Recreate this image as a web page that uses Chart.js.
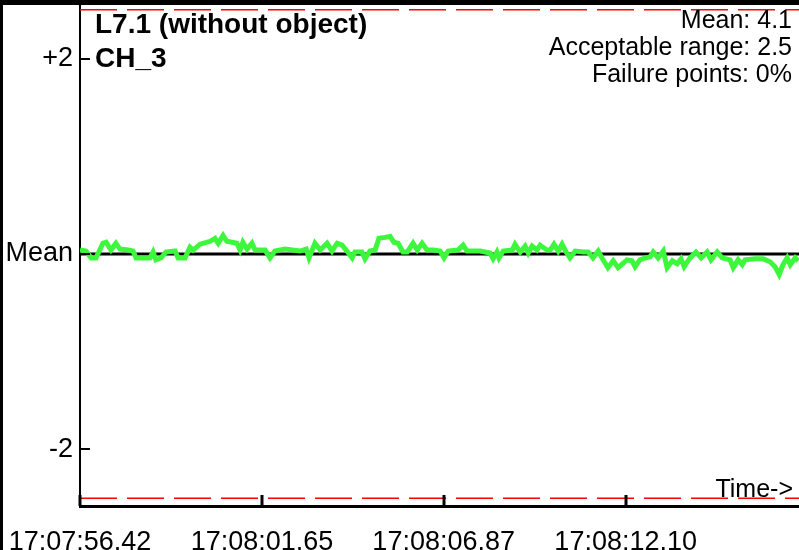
<!DOCTYPE html>
<html>
<head>
<meta charset="utf-8">
<script src="https://cdn.jsdelivr.net/npm/chart.js@4.4.1/dist/chart.umd.min.js"></script>
<style>
  html, body { margin: 0; padding: 0; background: #fff; }
  #wrap { width: 799px; height: 550px; }
</style>
</head>
<body>
<div id="wrap"><canvas id="chart" width="799" height="550"></canvas></div>
<script>
// seconds after 17:07:56.42
const times = [0.00, 0.17, 0.32, 0.46, 0.66, 0.75, 0.89, 1.03, 1.15, 1.38, 1.52, 1.61, 2.01, 2.10, 2.18, 2.33, 2.47, 2.73, 2.82, 3.02,
  3.16, 3.25, 3.45, 3.74, 3.88, 3.97, 4.11, 4.22, 4.51, 4.60, 4.68, 4.80, 4.94, 5.03, 5.32, 5.46, 5.60, 5.89, 6.32, 6.50,
  6.58, 6.75, 6.90, 7.10, 7.24, 7.39, 7.53, 7.67, 7.82, 7.90, 8.10, 8.19, 8.33, 8.48, 8.59, 8.77, 8.91, 9.02, 9.14, 9.28,
  9.40, 9.57, 9.69, 9.83, 9.97, 10.15, 10.35, 10.46, 10.58, 10.86, 11.01, 11.12, 11.50, 11.78, 11.87, 11.98, 12.04, 12.16, 12.42, 12.50,
  12.65, 12.79, 12.88, 12.99, 13.13, 13.22, 13.42, 13.51, 13.62, 13.74, 13.85, 13.97, 14.08, 14.23, 14.46, 14.60, 14.74, 14.89, 15.03, 15.17,
  15.32, 15.46, 15.72, 15.86, 15.95, 16.09, 16.24, 16.38, 16.47, 16.61, 16.76, 16.87, 17.02, 17.16, 17.27, 17.36, 17.53, 17.70, 17.85, 18.02,
  18.13, 18.31, 18.45, 18.68, 18.77, 18.91, 19.03, 19.11, 19.40, 19.63, 19.83, 19.97, 20.09, 20.20, 20.32, 20.41, 20.55, 20.64];

// deviation from mean
const values = [0.04, 0.03, -0.04, -0.04, 0.11, 0.12, 0.04, 0.11, 0.05, 0.04, 0.03, -0.04, -0.04, 0.02, -0.06, -0.04, 0.02, 0.03, -0.04, -0.04,
  0.07, 0.04, 0.10, 0.13, 0.16, 0.11, 0.19, 0.13, 0.11, 0.04, 0.12, 0.05, 0.11, 0.04, 0.04, -0.04, 0.03, 0.05, 0.03, 0.05,
  -0.04, 0.11, 0.04, 0.11, 0.03, 0.11, 0.09, 0.03, -0.04, 0.02, 0.02, -0.05, 0.03, 0.04, 0.16, 0.17, 0.18, 0.12, 0.11, 0.02,
  0.02, 0.11, 0.04, 0.11, 0.04, 0.04, 0.03, -0.04, 0.03, 0.04, 0.09, 0.03, 0.03, 0.01, -0.05, 0.02, -0.04, 0.03, 0.04, 0.10,
  0.02, 0.08, 0.01, 0.08, 0.04, 0.09, 0.04, 0.04, 0.10, 0.03, 0.10, 0.02, -0.04, 0.03, 0.02, 0.02, -0.04, 0.03, -0.06, -0.14,
  -0.07, -0.14, -0.06, -0.07, -0.13, -0.06, -0.04, -0.03, 0.02, -0.04, 0.03, -0.14, -0.07, -0.10, -0.05, -0.13, -0.04, 0.02, -0.04, 0.02,
  -0.06, 0.02, -0.04, -0.06, -0.14, -0.06, -0.11, -0.06, -0.05, -0.05, -0.08, -0.13, -0.21, -0.11, -0.04, -0.11, -0.04, -0.07];

const xTickValues = [0, 5.23, 10.45, 15.68];
const xTickLabels = ['17:07:56.42', '17:08:01.65', '17:08:06.87', '17:08:12.10'];
const yTickValues = [-2, 0, 2];
const yTickLabels = ['-2', 'Mean', '+2'];
const xMax = 20.66;
const yMin = -2.58, yMax = 2.6;
const acceptableRange = 2.5;

const titleLines = ['L7.1 (without object)', 'CH_3'];
const statLines = ['Mean: 4.1', 'Acceptable range: 2.5', 'Failure points: 0%'];

const FONT = '"Liberation Sans", Arial, sans-serif';

const points = times.map((t, i) => ({ x: t, y: values[i] }));

function noPadding(scale) {
  scale.paddingTop = 0;
  scale.paddingBottom = 0;
  scale.paddingLeft = 0;
  scale.paddingRight = 0;
}

// frame, inward ticks and text annotations
const decorations = {
  id: 'decorations',
  afterDraw(chart) {
    const { ctx, chartArea, scales } = chart;
    ctx.save();
    ctx.fillStyle = '#000';
    ctx.fillRect(0, 0, 3, chart.height);
    ctx.fillRect(0, 0, chart.width, 5);

    ctx.strokeStyle = '#000';
    ctx.lineWidth = 3;
    xTickValues.forEach(v => {
      const x = Math.round(scales.x.getPixelForValue(v));
      ctx.beginPath();
      ctx.moveTo(x, chartArea.bottom);
      ctx.lineTo(x, chartArea.bottom - 11);
      ctx.stroke();
    });
    ctx.lineWidth = 2;
    yTickValues.forEach(v => {
      const y = Math.round(scales.y.getPixelForValue(v));
      ctx.beginPath();
      ctx.moveTo(chartArea.left, y);
      ctx.lineTo(chartArea.left + 10, y);
      ctx.stroke();
    });

    ctx.fillStyle = '#000';
    ctx.textBaseline = 'alphabetic';
    ctx.textAlign = 'left';
    ctx.font = 'bold 28px ' + FONT;
    ctx.fillText(titleLines[0], chartArea.left + 15, 33);
    ctx.fillText(titleLines[1], chartArea.left + 15, 67);

    ctx.textAlign = 'right';
    ctx.font = '25px ' + FONT;
    statLines.forEach((s, i) => ctx.fillText(s, 792, 28 + i * 27));
    ctx.fillText('Time->', 793, 497);
    ctx.restore();
  }
};

new Chart(document.getElementById('chart'), {
  type: 'line',
  data: {
    datasets: [
      {
        data: points,
        borderColor: '#3cf73c',
        borderWidth: 5,
        pointRadius: 0,
        tension: 0
      },
      {
        data: [{ x: 0, y: 0 }, { x: xMax, y: 0 }],
        borderColor: '#000',
        borderWidth: 3,
        pointRadius: 0
      },
      {
        data: [{ x: 0, y: acceptableRange }, { x: xMax, y: acceptableRange }],
        borderColor: '#ff0000',
        borderWidth: 1.5,
        borderDash: [37, 10],
        pointRadius: 0
      },
      {
        data: [{ x: 0, y: -acceptableRange }, { x: xMax, y: -acceptableRange }],
        borderColor: '#ff0000',
        borderWidth: 1.5,
        borderDash: [37, 10],
        pointRadius: 0
      }
    ]
  },
  options: {
    responsive: false,
    animation: false,
    events: [],
    layout: { padding: 0 },
    plugins: {
      legend: { display: false },
      tooltip: { enabled: false },
      title: { display: false }
    },
    scales: {
      x: {
        type: 'linear',
        min: 0,
        max: xMax,
        afterBuildTicks: scale => { scale.ticks = xTickValues.map(v => ({ value: v })); },
        afterFit: scale => { scale.height = 44; noPadding(scale); },
        grid: { display: false, drawTicks: false, tickLength: 0 },
        border: { display: true, color: '#000', width: 3 },
        ticks: {
          color: '#000',
          font: { family: FONT, size: 27 },
          padding: 20,
          maxRotation: 0,
          autoSkip: false,
          callback: (v, i) => xTickLabels[i]
        }
      },
      y: {
        min: yMin,
        max: yMax,
        afterBuildTicks: scale => { scale.ticks = yTickValues.map(v => ({ value: v })); },
        afterFit: scale => { scale.width = 80; noPadding(scale); },
        grid: { display: false, drawTicks: false, tickLength: 0 },
        border: { display: true, color: '#000', width: 2 },
        ticks: {
          color: '#000',
          font: { family: FONT, size: 27 },
          padding: 7,
          callback: (v, i) => yTickLabels[i]
        }
      }
    }
  },
  plugins: [decorations]
});
</script>
</body>
</html>
